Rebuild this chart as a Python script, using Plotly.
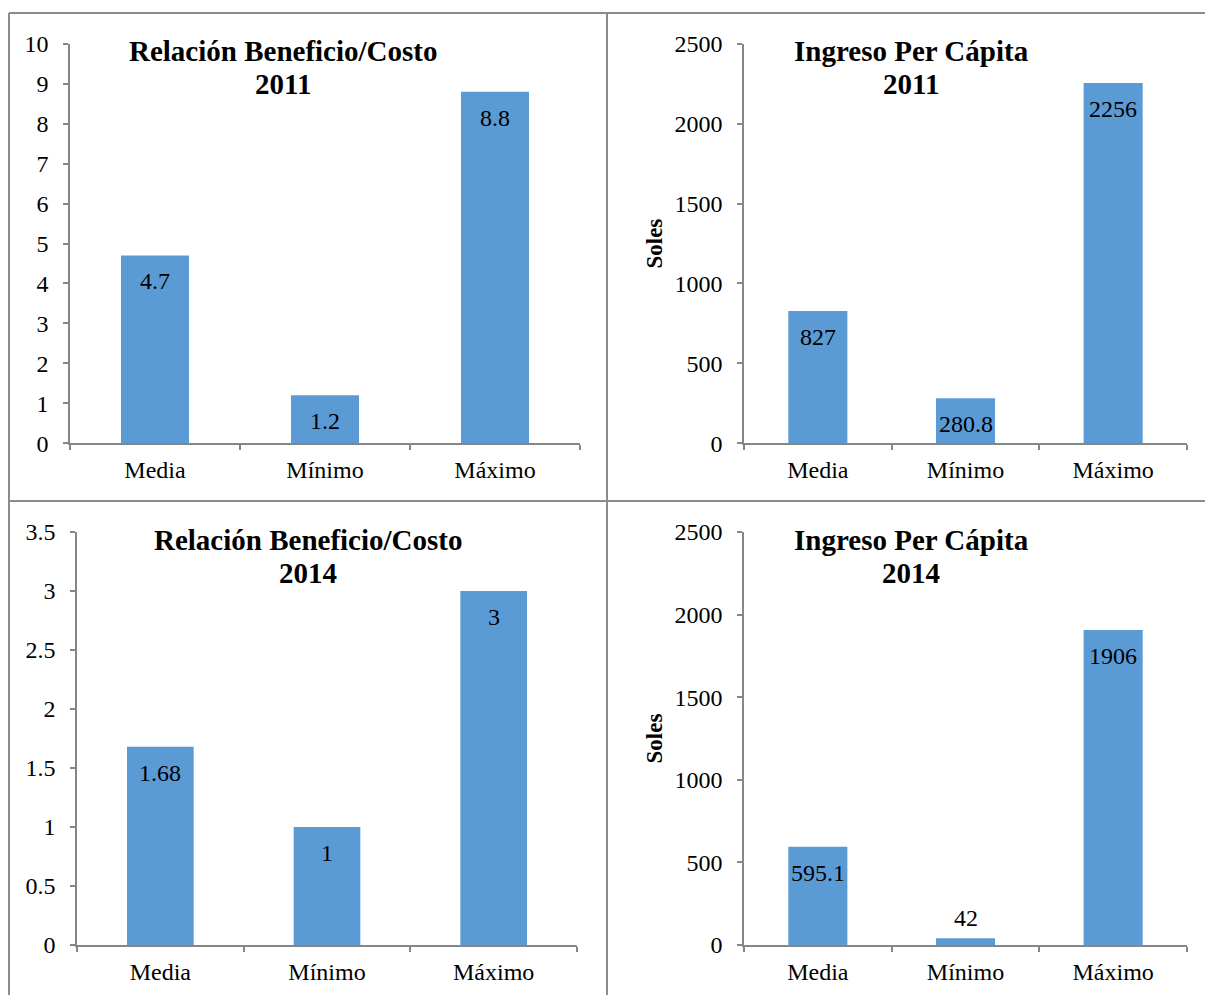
import plotly.graph_objects as go

W, H = 1205, 996
# the paper area is drawn between these screen rows
PAPER_TOP, PAPER_BOTTOM = 12, 984

categorias = ["Media", "Mínimo", "Máximo"]
bc_2011 = [4.7, 1.2, 8.8]
ingreso_2011 = [827, 280.8, 2256]
bc_2014 = [1.68, 1, 3]
ingreso_2014 = [595.1, 42, 1906]

BAR = "#5B9BD5"
AXIS = "#868686"
FONT = "Liberation Serif, Times New Roman, serif"


def px_x(v):
    return v / W


def px_y(v):
    return 1 - (v - PAPER_TOP) / (PAPER_BOTTOM - PAPER_TOP)


# panel: (values, x-domain px, y-domain px (bottom, top), y-range, dtick, title lines, title center x, title line ys, soles label)
panels = [
    (bc_2011, (70, 580), (443, 43), (0, 10), 1,
     ["Relación Beneficio/Costo", "2011"], 283, (50, 83), False),
    (ingreso_2011, (744, 1187), (443, 43), (0, 2500), 500,
     ["Ingreso Per Cápita", "2011"], 911, (50, 83), True),
    (bc_2014, (77, 577), (946, 532), (0, 3.5), 0.5,
     ["Relación Beneficio/Costo", "2014"], 308, (540, 573), False),
    (ingreso_2014, (744, 1187), (946, 532), (0, 2500), 500,
     ["Ingreso Per Cápita", "2014"], 911, (540, 573), True),
]

fig = go.Figure()
annotations = []
layout_axes = {}

for i, (vals, xd, yd, yr, dt, tlines, tx, tys, soles) in enumerate(panels, start=1):
    xa = "x" if i == 1 else f"x{i}"
    ya = "y" if i == 1 else f"y{i}"
    fig.add_trace(go.Bar(
        x=categorias, y=vals, xaxis=xa, yaxis=ya,
        marker=dict(color=BAR, line=dict(width=0)),
        width=0.4, showlegend=False, hoverinfo="x+y",
    ))
    layout_axes["xaxis" if i == 1 else f"xaxis{i}"] = dict(
        domain=[px_x(xd[0]), px_x(xd[1])], anchor=ya,
        showline=True, linecolor=AXIS, linewidth=1.5,
        ticks="outside", tickson="boundaries", ticklen=5, tickcolor=AXIS, tickwidth=1.5,
        showgrid=False, zeroline=False,
        tickfont=dict(family=FONT, size=24, color="black"),
        ticklabelstandoff=4,
        fixedrange=True,
    )
    layout_axes["yaxis" if i == 1 else f"yaxis{i}"] = dict(
        domain=[px_y(yd[0]), px_y(yd[1])], anchor=xa,
        range=list(yr), dtick=dt, tick0=0,
        showline=True, linecolor=AXIS, linewidth=1.5,
        ticks="outside", ticklen=5, tickcolor=AXIS, tickwidth=1.5,
        showgrid=False, zeroline=False,
        tickfont=dict(family=FONT, size=24, color="black"),
        ticklabelstandoff=10,
        fixedrange=True,
    )

    # value labels near the top of each bar (above it when the bar is too short)
    for c, v in zip(categorias, vals):
        small = v / yr[1] < 0.05
        annotations.append(dict(
            x=c, y=v, xref=xa, yref=ya, text=str(v), showarrow=False,
            yanchor="bottom" if small else "middle",
            yshift=5 if small else -26,
            font=dict(family=FONT, size=24, color="black"),
        ))

    # chart titles
    for line, ty in zip(tlines, tys):
        annotations.append(dict(
            x=px_x(tx), y=px_y(ty), xref="paper", yref="paper",
            text=f"<b>{line}</b>", showarrow=False,
            xanchor="center", yanchor="middle",
            font=dict(family=FONT, size=29, color="black"),
        ))

    if soles:
        annotations.append(dict(
            x=px_x(655), y=px_y((yd[0] + yd[1]) / 2), xref="paper", yref="paper",
            text="<b>Soles</b>", showarrow=False, textangle=-90,
            xanchor="center", yanchor="middle",
            font=dict(family=FONT, size=23, color="black"),
        ))

# frame lines separating the four charts
frame = dict(type="line", xref="paper", yref="paper", line=dict(color="#8C8C8C", width=2))
shapes = [
    dict(frame, x0=px_x(9), x1=1, y0=px_y(12), y1=px_y(12)),
    dict(frame, x0=px_x(9), x1=px_x(9), y0=px_y(12), y1=px_y(H)),
    dict(frame, x0=px_x(607), x1=px_x(607), y0=px_y(12), y1=px_y(H)),
    dict(frame, x0=px_x(9), x1=1, y0=px_y(501), y1=px_y(501)),
]

fig.update_layout(
    width=W, height=H,
    margin=dict(l=0, r=0, t=0, b=0),
    paper_bgcolor="white", plot_bgcolor="white",
    font=dict(family=FONT, color="black"),
    annotations=annotations, shapes=shapes,
    **layout_axes,
)

fig.write_html("out.html", config={"displayModeBar": False})
